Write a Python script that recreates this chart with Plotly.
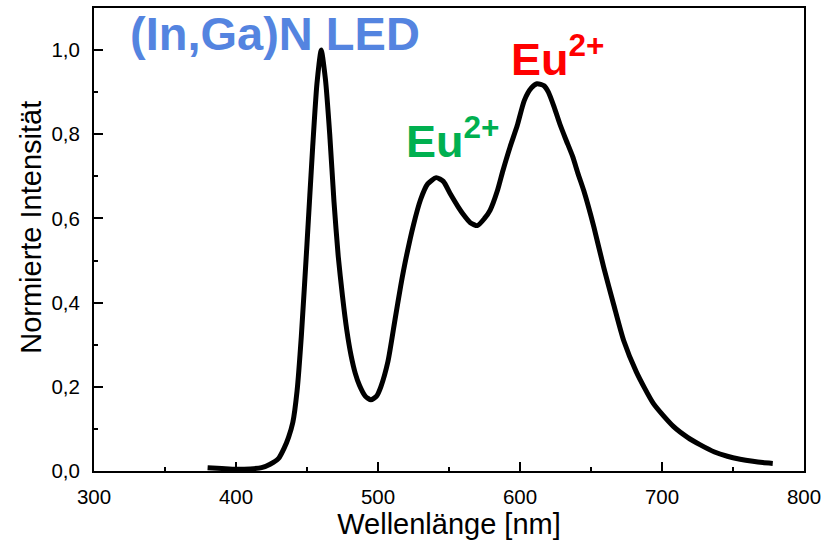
import plotly.graph_objects as go

# Emission spectrum of a phosphor-converted (In,Ga)N LED (normalised)
wavelength_nm = [380, 390, 400, 410, 418, 424, 430, 434, 437, 440, 443, 446, 450, 454,
                 457, 460, 463, 466, 469, 472, 475, 478, 481, 484, 487, 491, 495, 499,
                 502, 507, 512, 516, 520, 525, 530, 535, 541, 546, 551, 556, 560, 565,
                 570, 575, 579, 584, 588, 593, 598, 603, 608, 612, 617, 620, 624, 628,
                 632, 637, 641, 645, 652, 659, 666, 673, 682, 694, 708, 718, 727, 737,
                 746, 755, 764, 771, 778]
intensity = [0.008, 0.006, 0.004, 0.005, 0.008, 0.016, 0.03, 0.055, 0.08, 0.115, 0.19,
             0.32, 0.54, 0.77, 0.92, 1.0, 0.93, 0.8, 0.64, 0.51, 0.415, 0.335, 0.275,
             0.232, 0.203, 0.178, 0.169, 0.178, 0.2, 0.26, 0.36, 0.44, 0.51, 0.585,
             0.645, 0.682, 0.697, 0.688, 0.658, 0.63, 0.61, 0.59, 0.583, 0.6, 0.62,
             0.665, 0.714, 0.77, 0.82, 0.88, 0.91, 0.92, 0.915, 0.9, 0.865, 0.825,
             0.79, 0.748, 0.705, 0.665, 0.58, 0.483, 0.395, 0.31, 0.235, 0.16, 0.106,
             0.08, 0.062, 0.045, 0.035, 0.028, 0.023, 0.02, 0.018]

x_ticks = [300, 400, 500, 600, 700, 800]
x_ticktext = ["300", "400", "500", "600", "700", "800"]
y_ticks = [0.0, 0.2, 0.4, 0.6, 0.8, 1.0]
y_ticktext = ["0,0", "0,2", "0,4", "0,6", "0,8", "1,0"]

FONT = "Liberation Sans, Arial, sans-serif"

fig = go.Figure()
fig.add_trace(go.Scatter(
    x=wavelength_nm, y=intensity, mode="lines",
    line=dict(color="black", width=5, shape="spline", smoothing=0.6),
    showlegend=False,
))

axis_common = dict(
    showline=True, linecolor="black", linewidth=2, mirror=True,
    ticks="inside", ticklen=9, tickwidth=2, tickcolor="black",
    showgrid=False, zeroline=False,
    tickfont=dict(family=FONT, size=20.5, color="black"),
)

fig.update_xaxes(
    range=[300, 800], tickvals=x_ticks, ticktext=x_ticktext,
    minor=dict(ticks="inside", ticklen=4, tickwidth=2, tickcolor="black", dtick=50),
    title=dict(text="Wellenlänge [nm]", font=dict(family=FONT, size=29, color="black"),
               standoff=3),
    ticklabelstandoff=6,
    **axis_common,
)
fig.update_yaxes(
    range=[0, 1.1], tickvals=y_ticks, ticktext=y_ticktext,
    minor=dict(ticks="inside", ticklen=4, tickwidth=2, tickcolor="black", dtick=0.1),
    ticklabelstandoff=8,
    **axis_common,
)

# y-axis title, placed slightly above the plot-area centre
fig.add_annotation(
    x=-0.089, y=0.527, xref="paper", yref="paper",
    text="Normierte Intensität", textangle=-90, showarrow=False,
    xanchor="center", yanchor="middle",
    font=dict(family=FONT, size=29, color="black"),
)

labels = [
    dict(x=324, y=1.04, text="<b>(In,Ga)N LED</b>", color="#5484E0", size=47),
    dict(x=518.5, y=0.79, text="<b>Eu<sup>2+</sup></b>", color="#00B050", size=45),
    dict(x=592.5, y=0.985, text="<b>Eu<sup>2+</sup></b>", color="#FF0000", size=45),
]
for lab in labels:
    fig.add_annotation(
        x=lab["x"], y=lab["y"], xref="x", yref="y", text=lab["text"],
        showarrow=False, xanchor="left", yanchor="middle",
        font=dict(family=FONT, size=lab["size"], color=lab["color"]),
    )

fig.update_layout(
    width=836, height=541,
    margin=dict(l=94, r=32, t=6, b=70),
    plot_bgcolor="white", paper_bgcolor="white",
)

fig.write_html("out.html")
